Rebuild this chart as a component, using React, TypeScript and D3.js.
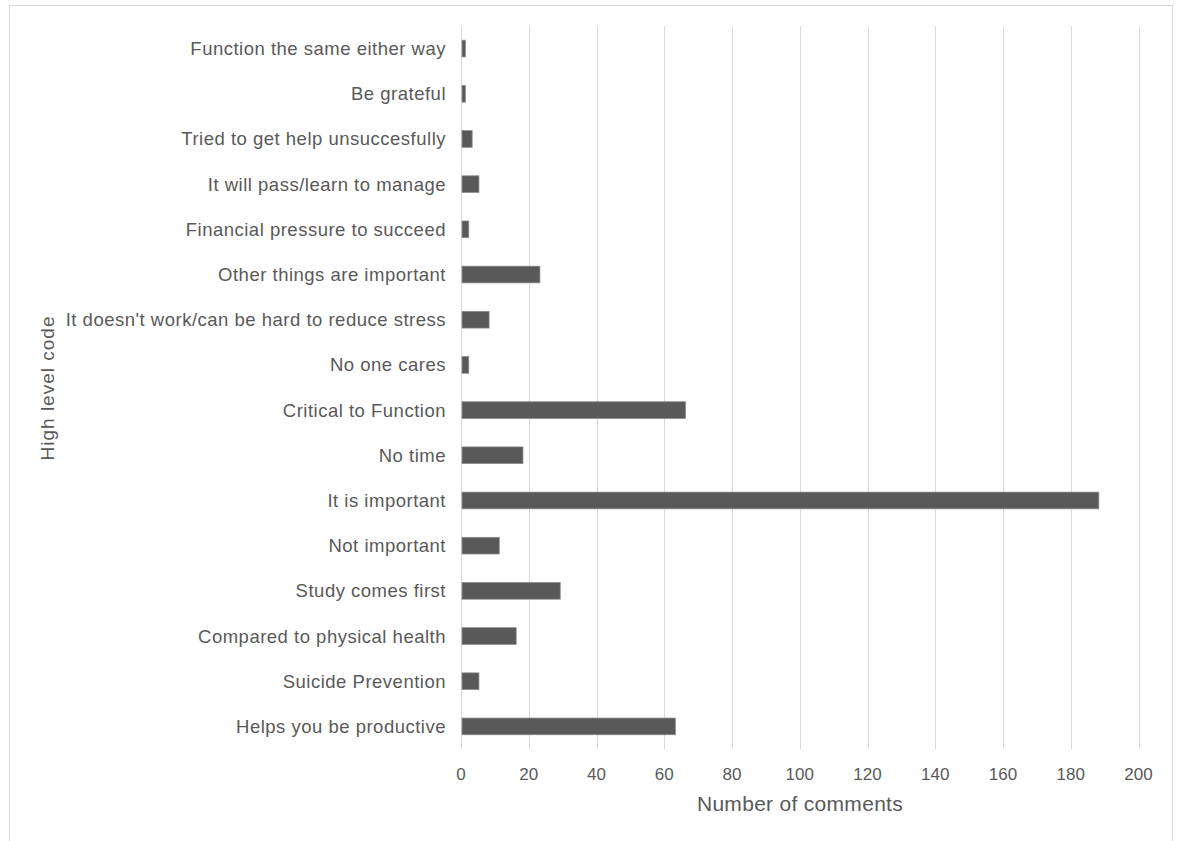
import React from "react";
import * as d3 from "d3";

// Categories listed top to bottom, with comment counts
const categories: string[] = [
  "Function the same either way",
  "Be grateful",
  "Tried to get help unsuccesfully",
  "It will pass/learn to manage",
  "Financial pressure to succeed",
  "Other things are important",
  "It doesn't work/can be hard to reduce stress",
  "No one cares",
  "Critical to Function",
  "No time",
  "It is important",
  "Not important",
  "Study comes first",
  "Compared to physical health",
  "Suicide Prevention",
  "Helps you be productive",
];

const counts: number[] = [1, 1, 3, 5, 2, 23, 8, 2, 66, 18, 188, 11, 29, 16, 5, 63];

const xTicks: number[] = [0, 20, 40, 60, 80, 100, 120, 140, 160, 180, 200];

const xTitle = "Number of comments";
const yTitle = "High level code";

const W = 1181;
const H = 841;
const plot = { left: 461, right: 1138.5, top: 26, bottom: 749 };

const labelFont = "'Liberation Sans', Arial, sans-serif";
const textColor = "#595959";

export default function App() {
  const x = d3.scaleLinear().domain([0, 200]).range([plot.left, plot.right]);
  const y = d3
    .scaleBand<string>()
    .domain(categories)
    .range([plot.top, plot.bottom])
    .paddingInner(0.63)
    .paddingOuter(0.315);

  return (
    <svg
      width={W}
      height={H}
      style={{ position: "absolute", left: 0, top: 0, background: "#fff" }}
    >
      <rect x={9.5} y={5.5} width={1163} height={H} fill="#fff" stroke="#d9d9d9" strokeWidth={1} />

      {/* vertical gridlines */}
      {xTicks.map((t) => (
        <line
          key={"g" + t}
          x1={Math.round(x(t)) + 0.5}
          x2={Math.round(x(t)) + 0.5}
          y1={plot.top}
          y2={plot.bottom}
          stroke="#d9d9d9"
          strokeWidth={1}
        />
      ))}

      {/* bars */}
      {categories.map((c, i) => (
        <rect
          key={"b" + c}
          x={x(0) + 1}
          y={y(c)!}
          width={Math.max(0, x(counts[i]) - x(0))}
          height={y.bandwidth()}
          fill="#595959"
          stroke="#8c8c8c"
          strokeWidth={0.75}
        />
      ))}

      {/* category labels */}
      {categories.map((c) => (
        <text
          key={"l" + c}
          x={446}
          y={y(c)! + y.bandwidth() / 2}
          dy="0.35em"
          textAnchor="end"
          fontFamily={labelFont}
          fontSize={18.5}
          letterSpacing={0.5}
          fill={textColor}
        >
          {c}
        </text>
      ))}

      {/* x tick labels */}
      {xTicks.map((t) => (
        <text
          key={"t" + t}
          x={x(t)}
          y={780}
          textAnchor="middle"
          fontFamily={labelFont}
          fontSize={17}
          fill={textColor}
        >
          {t}
        </text>
      ))}

      <text
        x={800}
        y={811}
        textAnchor="middle"
        fontFamily={labelFont}
        fontSize={21}
        letterSpacing={0.3}
        fill={textColor}
      >
        {xTitle}
      </text>

      <text
        transform="translate(54, 388) rotate(-90)"
        textAnchor="middle"
        fontFamily={labelFont}
        fontSize={19}
        letterSpacing={1}
        fill={textColor}
      >
        {yTitle}
      </text>
    </svg>
  );
}
